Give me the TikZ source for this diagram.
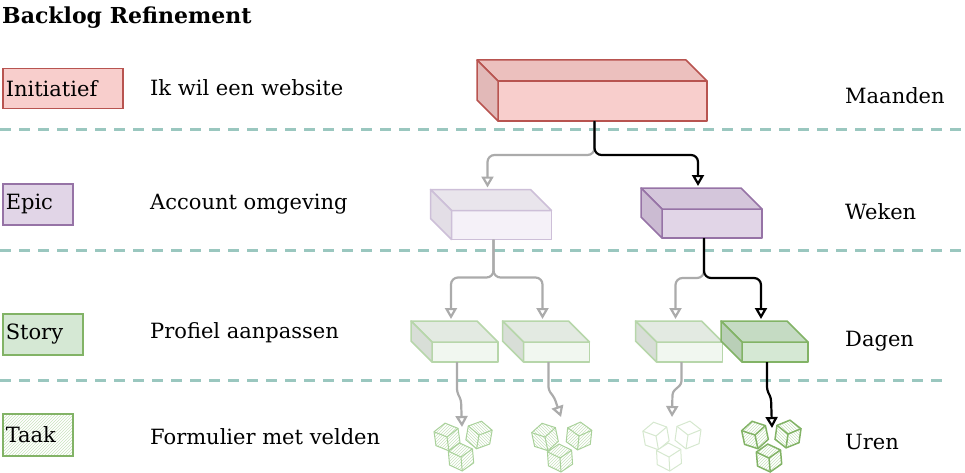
\documentclass[tikz,border=0pt]{standalone}
\usepackage{fontspec}
\setmainfont{DejaVu Serif}
\usetikzlibrary{calc,arrows.meta,patterns}

\definecolor{roodlijn}{HTML}{B85450}
\definecolor{roodvoor}{HTML}{F8CECC}
\definecolor{roodtop}{HTML}{ECC0BE}
\definecolor{roodzij}{HTML}{E2B9B8}
\definecolor{paarsAlijn}{HTML}{CDBFD8}
\definecolor{paarsAvoor}{HTML}{F5F1F8}
\definecolor{paarsAtop}{HTML}{E9E5EC}
\definecolor{paarsAzij}{HTML}{E3DEE6}
\definecolor{paarslijn}{HTML}{9673A6}
\definecolor{paarsvoor}{HTML}{E1D5E7}
\definecolor{paarstop}{HTML}{D4C6DB}
\definecolor{paarszij}{HTML}{CBBBD2}
\definecolor{groenAlijn}{HTML}{B7D6AA}
\definecolor{groenAvoor}{HTML}{F1F7F0}
\definecolor{groenAtop}{HTML}{E3EAE2}
\definecolor{groenAzij}{HTML}{D8DED7}
\definecolor{groenlijn}{HTML}{82B366}
\definecolor{groenvoor}{HTML}{D5E8D4}
\definecolor{groentop}{HTML}{C5DBC3}
\definecolor{groenzij}{HTML}{B9CFB7}
\definecolor{groenarcering}{HTML}{C9E2BF}
\definecolor{kubuslicht}{HTML}{D6E8CF}
\definecolor{kubuslijn}{HTML}{A9D19A}
\definecolor{scheidkleur}{HTML}{9AC7BF}
\definecolor{pijlgrijs}{HTML}{ABABAB}

\tikzset{
  tekst/.style={anchor=west, inner sep=0pt, font=\fontsize{21}{25}\selectfont},
  legenda/.style={anchor=north west, line width=1.5pt, inner sep=3pt, align=left, font=\fontsize{21}{25}\selectfont},
  scheiding/.style={draw=scheidkleur, line width=3pt, dash pattern=on 11pt off 8pt},
  vlak/.style={line width=1.5pt, outer sep=0pt, inner sep=0pt, line join=round},
  grijs/.style={draw=pijlgrijs, line width=2.2pt, rounded corners=7pt, -{Triangle[open, length=11pt, width=12pt]}},
  zwart/.style={draw=black, line width=2.2pt, rounded corners=7pt, -{Triangle[open, length=11pt, width=12pt]}},
  kubusA/.style={draw=kubuslijn, line width=1pt},
  kubusB/.style={draw=kubuslicht, line width=1pt},
  kubusC/.style={draw=groenlijn, line width=1.5pt}
}

% blok: naam, midden voorvlak, breedte, hoogte, lijn, voor, top, zij
\newcommand{\blok}[8]{%
  \node[vlak, draw=#5, fill=#6, minimum width=#3pt, minimum height=#4pt] (#1) at (#2) {};
  \filldraw[vlak, draw=#5, fill=#7] (#1.north west) -- ++(-21,-21) -- ++(#3,0) -- (#1.north east) -- cycle;
  \filldraw[vlak, draw=#5, fill=#8] (#1.north west) -- ++(-21,-21) -- ++(0,#4) -- (#1.south west) -- cycle;
  \coordinate (#1-in) at ($(#1.north)+(-14,-23)$);
  \coordinate (#1-uit) at ($(#1.south)+(-8,0)$);
}

% kubus: midden, draaiing, lijnstijl, vulling
\newcommand{\kubus}[4]{%
  \begin{scope}[shift={(#1)}, rotate=#2]
    \draw[#3, #4] (30:14) -- (90:14) -- (150:14) -- (210:14) -- (270:14) -- (330:14) -- cycle;
    \draw[#3] (0,0) -- (90:14) (0,0) -- (210:14) (0,0) -- (330:14);
  \end{scope}}

\begin{document}
\begin{tikzpicture}[x=1pt, y=-1pt]
    \useasboundingbox (0,0) rectangle (965,473);

    \node[tekst, font=\fontsize{22}{26}\selectfont\bfseries] (titel) at (2,18) {Backlog Refinement};

    % legenda
    \node[legenda, draw=roodlijn, fill=roodvoor, text width=114pt, minimum height=40pt] (legIni) at (2,68) {Initiatief};
    \node[legenda, draw=paarslijn, fill=paarsvoor, text width=64pt, minimum height=41pt] (legEpic) at (2,183) {Epic};
    \node[legenda, draw=groenlijn, fill=groenvoor, text width=74pt, minimum height=41pt] (legStory) at (2,313) {Story};
    \node[legenda, draw=groenlijn, pattern=north east lines, pattern color=groenarcering, text width=64pt, minimum height=42pt] (legTaak) at (2,413) {Taak};

    \node[tekst] (voorbIni) at (150,88) {Ik wil een website};
    \node[tekst] (voorbEpic) at (150,204) {Account omgeving};
    \node[tekst] (voorbStory) at (150,333) {Profiel aanpassen};
    \node[tekst] (voorbTaak) at (150,437) {Formulier met velden};

    \node[tekst] (duurIni) at (845,96) {Maanden};
    \node[tekst] (duurEpic) at (845,212) {Weken};
    \node[tekst] (duurStory) at (845,341) {Dagen};
    \node[tekst] (duurTaak) at (845,442) {Uren};

    \draw[scheiding] (0,130) -- (965,130);
    \draw[scheiding] (0,250) -- (965,250);
    \draw[scheiding] (0,380) -- (947,380);

    % blokken
    \blok{ini}{602.5,101}{209}{40}{roodlijn}{roodvoor}{roodtop}{roodzij}
    \blok{epicA}{501.5,225}{100}{29}{paarsAlijn}{paarsAvoor}{paarsAtop}{paarsAzij}
    \blok{epicB}{712,223.5}{100}{29}{paarslijn}{paarsvoor}{paarstop}{paarszij}
    \blok{storyA}{465,352}{66}{20}{groenAlijn}{groenAvoor}{groenAtop}{groenAzij}
    \blok{storyB}{556.5,352}{66}{20}{groenAlijn}{groenAvoor}{groenAtop}{groenAzij}
    \blok{storyC}{689.5,352}{66}{20}{groenAlijn}{groenAvoor}{groenAtop}{groenAzij}
    \blok{storyD}{775,352}{66}{20}{groenlijn}{groenvoor}{groentop}{groenzij}

    % taken
    \kubus{447,437}{8}{kubusA}{pattern=north east lines, pattern color=groenarcering}
    \kubus{479,435}{-10}{kubusA}{pattern=north west lines, pattern color=groenarcering}
    \kubus{461,457}{5}{kubusA}{pattern=north east lines, pattern color=groenarcering}
    \kubus{545,437}{12}{kubusA}{pattern=north west lines, pattern color=groenarcering}
    \kubus{579,436}{-6}{kubusA}{pattern=north east lines, pattern color=groenarcering}
    \kubus{560,458}{4}{kubusA}{pattern=north east lines, pattern color=groenarcering}
    \kubus{656,436}{10}{kubusB}{fill=white}
    \kubus{688,435}{-8}{kubusB}{fill=white}
    \kubus{669,457}{3}{kubusB}{fill=white}
    \kubus{755,435}{12}{kubusC}{pattern=north east lines, pattern color=groenarcering}
    \kubus{788,434}{-8}{kubusC}{pattern=north west lines, pattern color=groenarcering}
    \kubus{769,458}{5}{kubusC}{pattern=north east lines, pattern color=groenarcering}

    \coordinate (taakA) at (462,427);
    \coordinate (taakB) at (561,417);
    \coordinate (taakC) at (672,417);
    \coordinate (taakD) at (772,428);

    % verbindingen
    \draw[grijs] (ini-uit) -- ++(0,34) -| (epicA-in);
    \draw[zwart] (ini-uit) -- ++(0,34) -| (epicB-in);
    \draw[grijs] (epicA-uit) -- ++(0,38) -| (storyA-in);
    \draw[grijs] (epicA-uit) -- ++(0,38) -| (storyB-in);
    \draw[grijs] (epicB-uit) -- ++(0,40) -| (storyC-in);
    \draw[zwart] (epicB-uit) -- ++(0,40) -| (storyD-in);

    \draw[grijs, rounded corners=3pt] (storyA-uit) -- ++(0,30) -- ++(4,8) -- (taakA);
    \draw[grijs, rounded corners=3pt] (storyB-uit) -- ++(0,28) -- ++(6,8) -- (taakB);
    \draw[grijs, rounded corners=3pt] (storyC-uit) -- ++(0,22) -- ++(-9,8) -- (taakC);
    \draw[zwart, rounded corners=3pt] (storyD-uit) -- ++(0,28) -- ++(4,8) -- (taakD);
\end{tikzpicture}
\end{document}
